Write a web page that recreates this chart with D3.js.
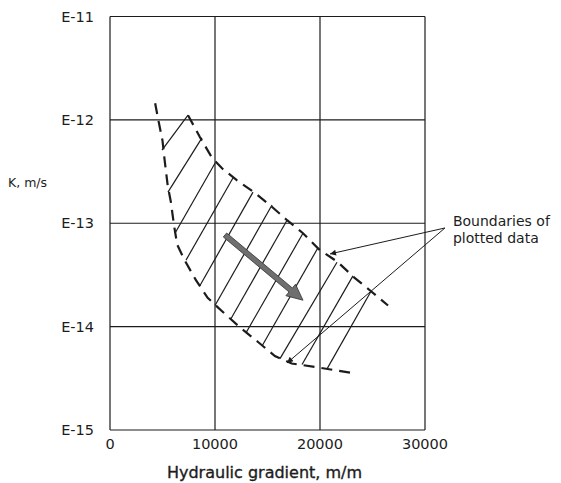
<!DOCTYPE html>
<html>
<head>
<meta charset="utf-8">
<script src="https://cdn.jsdelivr.net/npm/d3@7"></script>
<style>
    body { margin: 0; background: #fff; }
    text { font-family: "DejaVu Sans", sans-serif; fill: #1c1c1c; }
</style>
</head>
<body>
<svg id="chart" width="561" height="483"></svg>
<script>
// Axis ticks
const xTickValues = [0, 10000, 20000, 30000];
const kTickValues = [1e-11, 1e-12, 1e-13, 1e-14, 1e-15];
const kTickLabels = ['E-11', 'E-12', 'E-13', 'E-14', 'E-15'];

// Lower / left boundary of plotted data (dashed)
const lowerGradient = [4300, 4600, 5000, 5200, 5500, 5800, 6100, 6400, 7100, 8200, 9300, 10700, 12400, 14100, 15700, 17300, 20000, 23500];
const lowerK = [1.45e-12, 1.0e-12, 6.3e-13, 4.1e-13, 2.3e-13, 1.6e-13, 9.5e-14, 6.2e-14, 4.4e-14, 2.8e-14, 1.9e-14, 1.4e-14, 9.8e-15, 7.1e-15, 5.2e-15, 4.4e-15, 4.0e-15, 3.5e-15];

// Upper / right boundary of plotted data (dashed)
const upperGradient = [7430, 8570, 9710, 10670, 12100, 13710, 15330, 16860, 18380, 19900, 21710, 23240, 24860, 26480];
const upperK = [1.11e-12, 6.8e-13, 4.3e-13, 3.4e-13, 2.6e-13, 2.0e-13, 1.47e-13, 1.07e-13, 8.0e-14, 5.6e-14, 4.2e-14, 3.0e-14, 2.2e-14, 1.6e-14];

// Hatch lines across the band
const hatchTopGradient = [7430, 8760, 10000, 11710, 13620, 15430, 16860, 18380, 19810, 21620, 23140, 24860];
const hatchTopK = [1.11e-12, 6.7e-13, 3.8e-13, 2.74e-13, 2.0e-13, 1.5e-13, 1.07e-13, 8.0e-14, 5.8e-14, 4.2e-14, 3.1e-14, 2.2e-14];
const hatchBottomGradient = [4950, 5520, 6190, 7240, 8570, 10000, 11520, 12950, 14480, 16190, 18290, 20670];
const hatchBottomK = [5.1e-13, 2.0e-13, 8.0e-14, 4.4e-14, 2.5e-14, 1.6e-14, 1.19e-14, 8.7e-15, 6.5e-15, 4.9e-15, 4.3e-15, 3.9e-15];

// Trend arrow
const trendGradient = [10950, 18380];
const trendK = [7.7e-14, 1.8e-14];

// Annotation
const noteLines = ['Boundaries of', 'plotted data'];
const noteFromGradient = 31900;
const noteFromK = 9.0e-14;
const noteToGradient = [20950, 16860];
const noteToK = [5.05e-14, 4.45e-15];

const margin = { top: 16.5, right: 136, bottom: 53, left: 110 };
const width = 561, height = 483;

const svg = d3.select('#chart');

const x = d3.scaleLinear().domain([0, 30000]).range([margin.left, width - margin.right]);
const y = d3.scaleLog().domain([1e-15, 1e-11]).range([height - margin.bottom, margin.top]);

const ink = '#1c1c1c';

// Grid + frame
const grid = svg.append('g').attr('class', 'grid');
grid.selectAll('line.vgrid').data(xTickValues).enter().append('line')
    .attr('class', 'vgrid')
    .attr('x1', d => x(d)).attr('x2', d => x(d))
    .attr('y1', y(1e-11)).attr('y2', y(1e-15))
    .attr('stroke', ink).attr('stroke-width', 1.2);
grid.selectAll('line.hgrid').data(kTickValues).enter().append('line')
    .attr('class', 'hgrid')
    .attr('x1', x(0)).attr('x2', x(30000))
    .attr('y1', d => y(d)).attr('y2', d => y(d))
    .attr('stroke', ink).attr('stroke-width', 1.2);

// Tick labels
svg.append('g').selectAll('text').data(xTickValues).enter().append('text')
    .attr('x', d => x(d)).attr('y', y(1e-15) + 19)
    .attr('text-anchor', 'middle').attr('font-size', 14.5)
    .text(d => d);

svg.append('g').selectAll('text').data(kTickValues).enter().append('text')
    .attr('x', x(0) - 16).attr('y', d => y(d) + 5)
    .attr('text-anchor', 'end').attr('font-size', 14.5)
    .text((d, i) => kTickLabels[i]);

// Axis titles
svg.append('text').attr('x', 8).attr('y', 187).attr('font-size', 12.5).text('K, m/s');
svg.append('text').attr('x', (x(0) + x(30000)) / 2 - 3).attr('y', 478)
    .attr('text-anchor', 'middle').attr('font-size', 16)
    .attr('stroke', '#1c1c1c').attr('stroke-width', 0.35)
    .text('Hydraulic gradient, m/m');

// Hatch lines
svg.append('g').selectAll('line').data(hatchTopGradient).enter().append('line')
    .attr('x1', (d, i) => x(hatchBottomGradient[i])).attr('y1', (d, i) => y(hatchBottomK[i]))
    .attr('x2', d => x(d)).attr('y2', (d, i) => y(hatchTopK[i]))
    .attr('stroke', ink).attr('stroke-width', 1.2);

// Dashed boundaries
const boundary = d3.line().x(d => x(d[0])).y(d => y(d[1])).curve(d3.curveLinear);
const lowerPts = lowerGradient.map((g, i) => [g, lowerK[i]]);
const upperPts = upperGradient.map((g, i) => [g, upperK[i]]);
[lowerPts, upperPts].forEach(pts => {
    svg.append('path').attr('d', boundary(pts))
        .attr('fill', 'none').attr('stroke', ink)
        .attr('stroke-width', 2.2).attr('stroke-dasharray', '11,7');
});

// Trend arrow (grey, thick)
const a0 = [x(trendGradient[0]), y(trendK[0])];
const a1 = [x(trendGradient[1]), y(trendK[1])];
const len = Math.hypot(a1[0] - a0[0], a1[1] - a0[1]);
const ux = (a1[0] - a0[0]) / len, uy = (a1[1] - a0[1]) / len;
const nx = -uy, ny = ux;
const headLen = 16, headW = 7.5, shaftW = 2.6;
const hb = [a1[0] - ux * headLen, a1[1] - uy * headLen];
const arrowPts = [
    [a0[0] + nx * shaftW, a0[1] + ny * shaftW],
    [hb[0] + nx * shaftW, hb[1] + ny * shaftW],
    [hb[0] + nx * headW, hb[1] + ny * headW],
    a1,
    [hb[0] - nx * headW, hb[1] - ny * headW],
    [hb[0] - nx * shaftW, hb[1] - ny * shaftW],
    [a0[0] - nx * shaftW, a0[1] - ny * shaftW],
];
svg.append('path').attr('d', 'M' + arrowPts.map(p => p.join(',')).join('L') + 'Z')
    .attr('fill', '#6f6f6f').attr('stroke', '#333').attr('stroke-width', 0.8);

// Annotation arrows
const defs = svg.append('defs');
defs.append('marker').attr('id', 'tip')
    .attr('viewBox', '0 0 10 10').attr('refX', 10).attr('refY', 5)
    .attr('markerWidth', 9).attr('markerHeight', 6).attr('orient', 'auto')
    .attr('markerUnits', 'userSpaceOnUse')
    .append('path').attr('d', 'M0,0L10,5L0,10Z').attr('fill', ink);

svg.append('g').selectAll('line').data(noteToGradient).enter().append('line')
    .attr('x1', x(noteFromGradient)).attr('y1', y(noteFromK))
    .attr('x2', d => x(d)).attr('y2', (d, i) => y(noteToK[i]))
    .attr('stroke', ink).attr('stroke-width', 1)
    .attr('marker-end', 'url(#tip)');

svg.append('g').selectAll('text').data(noteLines).enter().append('text')
    .attr('x', x(noteFromGradient) + 8).attr('y', (d, i) => y(noteFromK) - 2 + i * 17)
    .attr('font-size', 14)
    .text(d => d);
</script>
</body>
</html>
